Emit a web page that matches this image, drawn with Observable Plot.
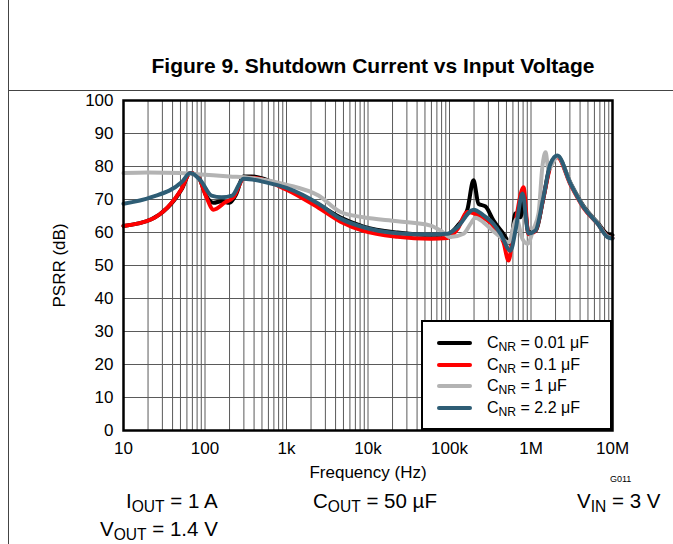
<!DOCTYPE html>
<html><head><meta charset="utf-8">
<script src="https://cdn.jsdelivr.net/npm/d3@7"></script>
<script src="https://cdn.jsdelivr.net/npm/@observablehq/plot@0.6"></script>
<style>
body{margin:0;background:#fff;font-family:"Liberation Sans",Arial,sans-serif;color:#000;}
#page{position:relative;width:673px;height:544px;overflow:hidden;background:#fff;}
.vline{position:absolute;left:8px;top:0;width:1px;height:544px;background:#444;}
.hline{position:absolute;left:8px;top:90px;width:665px;height:1px;background:#444;}
#title{position:absolute;left:0;width:746px;top:54px;text-align:center;font-weight:bold;font-size:21px;line-height:24px;}
#chart{position:absolute;left:0;top:90px;}
#legend{position:absolute;left:421px;top:320px;width:191px;height:110px;box-sizing:border-box;border:2.5px solid #000;background:#fff;}
.lrow{position:absolute;left:0;height:22px;width:100%;}
.lrow .sw{position:absolute;left:14px;width:35px;height:4px;top:9px;border-radius:2px;}
.lrow .tx{position:absolute;left:64px;top:0;font-size:16px;line-height:22px;white-space:nowrap;}
sub{font-size:0.76em;vertical-align:-0.28em;line-height:0;}
.note{position:absolute;font-size:20.5px;line-height:22px;white-space:nowrap;}
#g011{position:absolute;left:610px;top:474px;font-size:9px;line-height:10px;}
</style></head><body>
<div id="page">
  <div class="vline"></div><div class="hline"></div>
  <div id="title">Figure 9. Shutdown Current vs Input Voltage</div>
  <div id="chart"></div>
  <div id="legend"></div>
  <div id="g011">G011</div>
  <div class="note" style="left:126px;top:490px;">I<sub>OUT</sub> = 1 A</div>
  <div class="note" style="left:313px;top:490px;">C<sub>OUT</sub> = 50 µF</div>
  <div class="note" style="left:577px;top:490px;">V<sub>IN</sub> = 3 V</div>
  <div class="note" style="left:100px;top:518px;">V<sub>OUT</sub> = 1.4 V</div>
</div>
<script>
// ---- data (frequency in Hz, PSRR in dB) ----
const seriesLabels = ["0.01 μF", "0.1 μF", "1 μF", "2.2 μF"];
const seriesColors = ["#000000", "#ff0000", "#b3b3b3", "#2e5d75"];

const fBlack = [10, 22, 51.5, 66, 83, 104, 127, 160, 200, 240, 297, 372, 1000, 2470, 4600, 8800, 23000, 58500, 94400, 125000, 166000, 197000, 227000, 276000, 347000, 460000, 560000, 645000, 743000, 809000, 931000, 1.135e6, 1.42e6, 1.73e6, 2.11e6, 3.05e6, 4.41e6, 6.55e6, 8.7e6, 1e7];
const dbBlack = [62, 64, 73, 78, 76.8, 71, 69, 69.5, 69, 71.5, 77, 77, 73.3, 68.5, 64.5, 61.8, 60, 59.3, 59.5, 62, 67, 75.8, 68.7, 67.9, 63.6, 59.6, 56.6, 65.8, 64.6, 70, 60, 60.5, 70.5, 80.5, 83, 75, 68, 63, 59.5, 59.2];

const fRed = [10, 22, 51.5, 66, 83, 104, 127, 178, 224, 297, 372, 1000, 2470, 4600, 8800, 23000, 58500, 94400, 125000, 166000, 227000, 347000, 460000, 530000, 593000, 645000, 809000, 931000, 1.135e6, 1.42e6, 1.73e6, 2.11e6, 3.05e6, 4.41e6, 6.55e6, 8.7e6, 1e7];
const dbRed = [62, 64, 73.2, 78, 76.8, 70.7, 66.9, 69.2, 70.7, 76.3, 76.6, 73, 67.5, 63.3, 60.5, 58.7, 58.1, 58.3, 61, 66.2, 65.2, 62, 57, 51.5, 58, 63, 73.7, 59.5, 60.5, 70.5, 80, 82.8, 74.5, 67.5, 62.7, 58.8, 58.3];

const fGray = [10, 20, 50, 100, 200, 372, 1000, 2470, 4600, 8800, 23000, 58500, 77600, 102800, 148600, 181000, 208000, 261000, 337000, 423000, 530000, 664000, 787000, 906000, 1.07e6, 1.24e6, 1.38e6, 1.51e6, 1.64e6, 1.84e6, 2.11e6, 3.05e6, 4.41e6, 6.55e6, 8.7e6, 1e7];
const dbGray = [78, 78.2, 78, 77.5, 77, 76.5, 74.5, 71.2, 66.2, 64.6, 63.4, 62.1, 60.6, 58.6, 59.6, 62.6, 64.5, 63.1, 60.6, 58.6, 57, 64, 58, 56.6, 61, 66, 80, 84.3, 79, 81, 83.2, 75, 67.8, 62.8, 58.8, 58.3];

const fBlue = [10, 22, 51.5, 66, 88, 120, 160, 215, 297, 560, 1000, 2470, 4600, 8800, 23000, 58500, 94400, 125000, 197000, 261000, 347000, 423000, 560000, 645000, 787000, 931000, 1.135e6, 1.42e6, 1.73e6, 2.11e6, 3.05e6, 4.41e6, 6.55e6, 8.7e6, 1e7];
const dbBlue = [68.7, 70.7, 75.2, 78, 75.8, 71.2, 70.7, 71.2, 76.3, 75.2, 73.5, 68.7, 64.2, 61.6, 59.8, 59.4, 59.6, 61.6, 66.9, 65.2, 62.6, 59.6, 54.5, 60.6, 71.8, 59.7, 60.6, 70.7, 80.8, 83.3, 74.8, 67.7, 62.7, 58.6, 58.2];

const xTicks = [10, 100, 1e3, 1e4, 1e5, 1e6, 1e7];
const xTickLabels = ["10", "100", "1k", "10k", "100k", "1M", "10M"];
const yTicks = [0, 10, 20, 30, 40, 50, 60, 70, 80, 90, 100];

// ---- build tables ----
const freqs = [fBlack, fRed, fGray, fBlue];
const dbs = [dbBlack, dbRed, dbGray, dbBlue];
const rows = [];
freqs.forEach((fs, s) => fs.forEach((f, i) => rows.push({series: s, f, db: dbs[s][i]})));

const gridX = [];
xTicks.slice(0, -1).forEach(d => { for (let k = 1; k <= 9; k++) gridX.push(d * k); });
gridX.push(xTicks[xTicks.length - 1]);
const xLabelMap = new Map(xTicks.map((t, i) => [t, xTickLabels[i]]));

const chart = Plot.plot({
  width: 673, height: 400,
  marginLeft: 123, marginRight: 61, marginTop: 10, marginBottom: 60,
  style: {fontFamily: "'Liberation Sans', Arial, sans-serif", fontSize: "17px", color: "#000", background: "transparent", overflow: "visible"},
  x: {type: "log", domain: [10, 1e7]},
  y: {domain: [0, 100]},
  marks: [
    Plot.ruleX(gridX, {stroke: "#5a5a5a", strokeWidth: 1}),
    Plot.ruleY(yTicks, {stroke: "#5a5a5a", strokeWidth: 1}),
    Plot.axisX(xTicks, {tickSize: 0, tickPadding: 11, tickFormat: d => xLabelMap.get(d), label: "Frequency (Hz)", labelAnchor: "center", labelArrow: "none", labelOffset: 47, fontSize: 17}),
    Plot.axisY(yTicks, {tickSize: 0, tickPadding: 10, label: "PSRR (dB)", labelAnchor: "center", labelArrow: "none", labelOffset: 71, fontSize: 17}),
    ...[0, 1, 2, 3].map(s => Plot.line(rows.filter(r => r.series === s), {
      x: "f", y: "db", stroke: seriesColors[s], strokeWidth: 4, curve: "monotone-x", strokeLinejoin: "round", strokeLinecap: "round"
    })),
    Plot.frame({stroke: "#000", strokeWidth: 2.5})
  ]
});
document.getElementById("chart").appendChild(chart);

// ---- legend ----
const legend = document.getElementById("legend");
seriesLabels.forEach((lab, i) => {
  const row = document.createElement("div");
  row.className = "lrow";
  row.style.top = (10 + i * 21.7) + "px";
  row.innerHTML = `<div class="sw" style="background:${seriesColors[i]}"></div><div class="tx">C<sub>NR</sub> = ${lab}</div>`;
  legend.appendChild(row);
});
</script>
</body></html>
